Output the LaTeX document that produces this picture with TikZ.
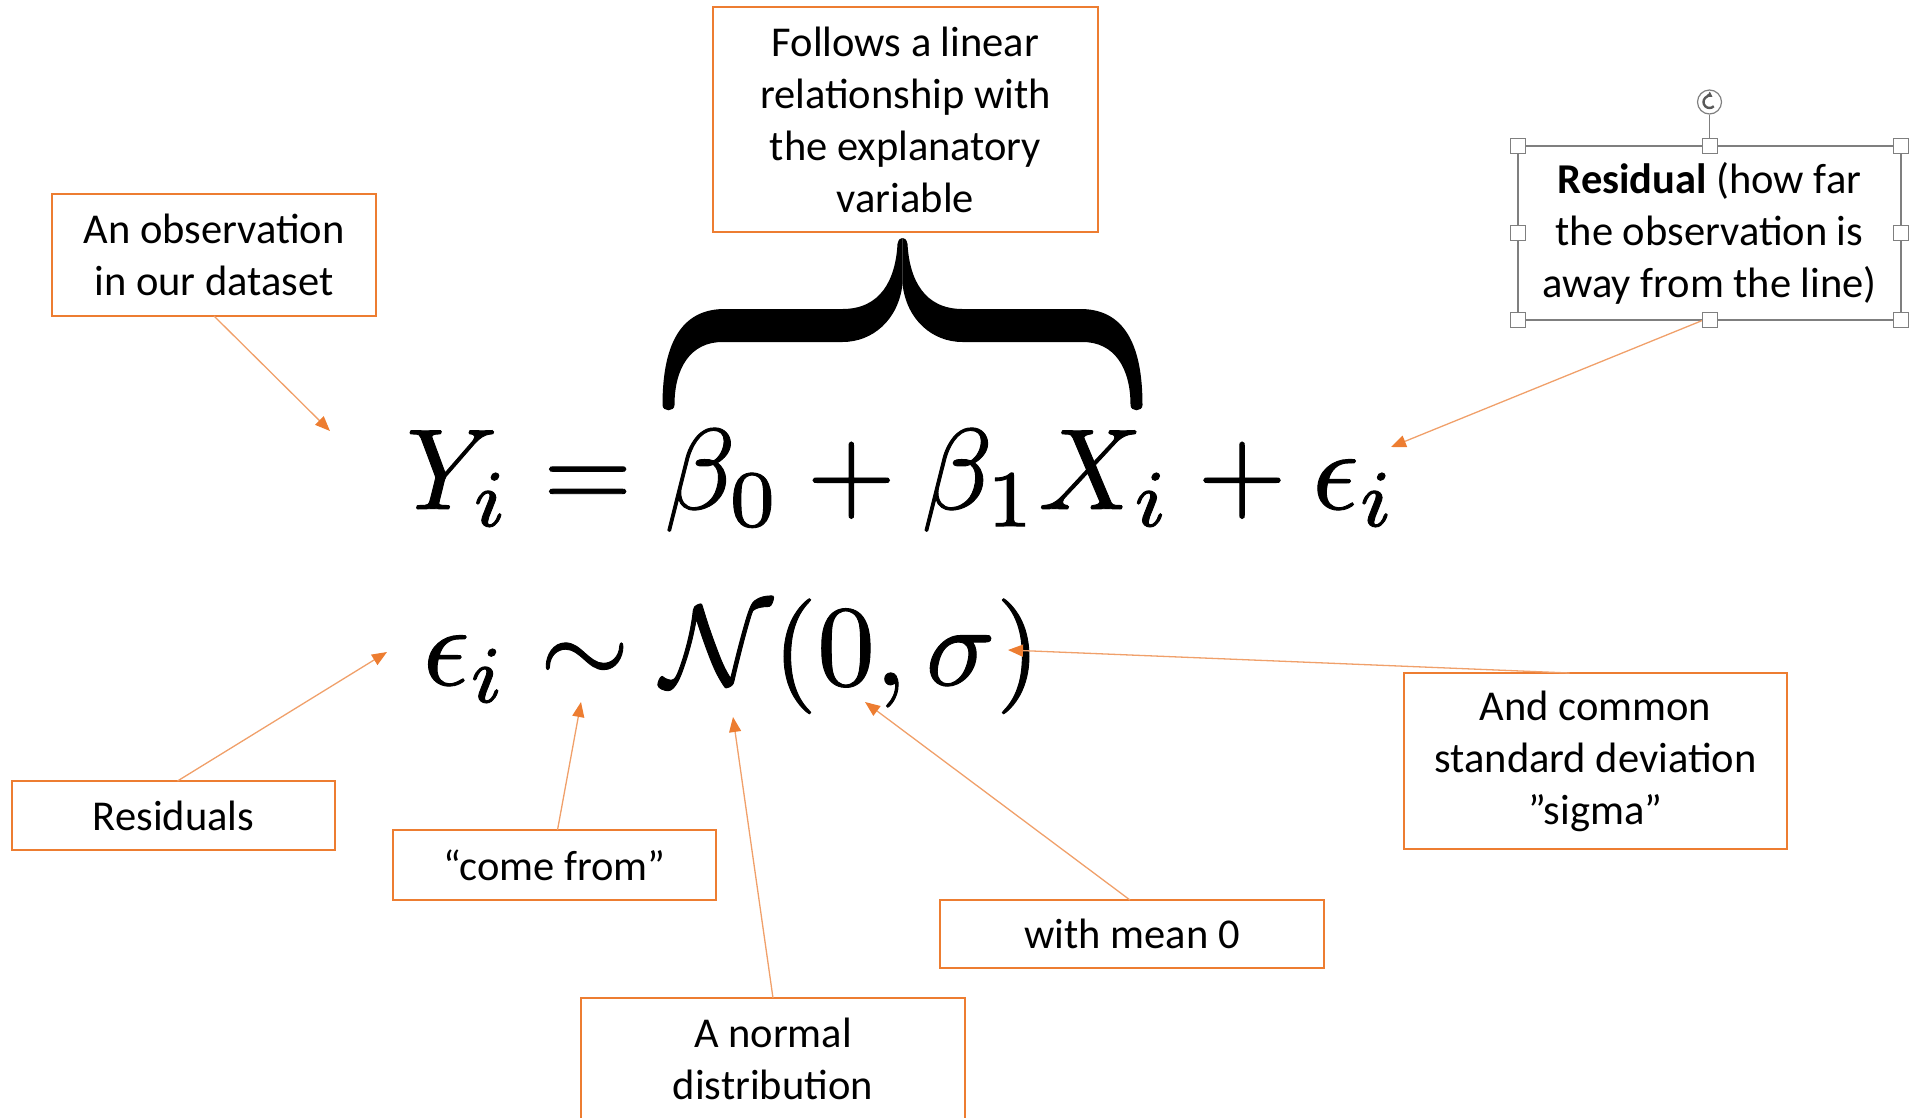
\documentclass[tikz,border=0pt]{standalone}
\usepackage[no-math]{fontspec}
\usepackage{graphicx}
\newfontfamily\calib{Carlito}
\usetikzlibrary{arrows.meta}
\definecolor{orng}{HTML}{ED7D31}
\definecolor{orngline}{HTML}{F0A06A}
\definecolor{hgray}{HTML}{7F7F7F}
\newcommand{\heavy}[1]{\special{pdf:literal 2 Tr 0.08 w}#1\special{pdf:literal 0 Tr}}
\begin{document}
\begin{tikzpicture}[x=1pt,y=-1pt,
  lbl/.style={draw=orng, line width=2pt, align=center, inner sep=0pt, outer sep=0pt,
    font=\calib\fontsize{42.5}{52}\selectfont},
  selbox/.style={lbl, draw=hgray, line width=1.6pt},
  handle/.style={draw=hgray, fill=white, line width=1pt, minimum size=15pt, inner sep=0pt},
  arr/.style={draw=orngline, line width=1.3pt, -{Triangle[length=15pt,width=12pt,color=orng,fill=orng]}},
  eq/.style={anchor=base west, inner sep=0pt, outer sep=0pt}]
\useasboundingbox (0,0) rectangle (1922,1117);
\clip (0,0) rectangle (1922,1117);

% boxes
\node[lbl, minimum width=324pt, minimum height=122pt] (obs) at (214,255) {An observation\\in our dataset};
\node[lbl, minimum width=385pt, minimum height=225pt] (follows) at (905.5,119.5) {Follows a linear\\relationship with\\the explanatory\\variable};
\node[selbox, minimum width=383pt, minimum height=174pt] (res) at (1709.5,233) {\textbf{Residual} (how far\\the observation is\\away from the line)};
\node[lbl, minimum width=323pt, minimum height=69pt] (resids) at (173.5,815.5) {Residuals};
\node[lbl, minimum width=323pt, minimum height=70pt] (comefrom) at (554.5,865) {“come from”};
\node[lbl, minimum width=384pt, minimum height=68pt] (mean) at (1132,934) {with mean 0};
\node[lbl, minimum width=384pt, minimum height=122pt] (normal) at (773,1059) {A normal\\distribution};
\node[lbl, minimum width=383pt, minimum height=176pt] (sigma) at (1595.5,761) {And common\\standard deviation\\”sigma”};

% equations
\node[eq] (eq1) at (406,509) {\scalebox{11.5}{\heavy{$Y_i = \beta_0 + \beta_1 X_i + \epsilon_i$}}};
\node[eq] (eq2) at (423,685) {\scalebox{11.5}{\heavy{$\epsilon_i \sim \mathcal{N}(0,\sigma)$}}};

% brace
\begin{scope}[shift={(902.5,0)}]
  \foreach \s in {1,-1}{
    \fill[xscale=\s] (-240,405) .. controls (-240,345) and (-222,309) .. (-178,309)
      -- (-60,309) .. controls (-22,309) and (-7,280) .. (-5,244)
      .. controls (-4,239) and (-2,238) .. (0,238) -- (0,284)
      .. controls (-4,320) and (-30,342) .. (-60,342)
      -- (-180,342) .. controls (-212,342) and (-228,368) .. (-228,405)
      .. controls (-228,412) and (-240,412) .. (-240,405) -- cycle;
  }
\end{scope}

% arrow tips
\coordinate (tObs) at (330,431);
\coordinate (tEps) at (1391,447);
\coordinate (tRes) at (387,652);
\coordinate (tSim) at (581,702);
\coordinate (tN) at (733,717);
\coordinate (tZero) at (865,702);
\coordinate (tSig) at (1008,650);

\draw[arr] (obs.south) -- (tObs);
\draw[arr] ([xshift=-6pt]res.south) -- (tEps);
\draw[arr] ([xshift=4pt]resids.north) -- (tRes);
\draw[arr] ([xshift=3pt]comefrom.north) -- (tSim);
\draw[arr] (normal.north) -- (tN);
\draw[arr] ([xshift=-2pt]mean.north) -- (tZero);
\draw[arr] ([xshift=-26pt]sigma.north) -- (tSig);

% selection handles
\foreach \a [count=\k] in {north west,north,north east,west,east,south west,south,south east}{
  \node[handle] (h\k) at (res.\a) {};
}
\node[circle, draw=hgray, fill=white, line width=1.2pt, minimum size=24pt, inner sep=0pt] (rot) at (1709.5,102) {};
\draw[hgray, line width=1.5pt] (rot.south) -- (h2.north);
\draw[black!65, line width=2.4pt, -{Triangle[length=5pt,width=6pt]}]
  ([shift={(-45:6pt)}]rot.center) arc[start angle=-45, end angle=-300, radius=6pt];
\end{tikzpicture}
\end{document}
